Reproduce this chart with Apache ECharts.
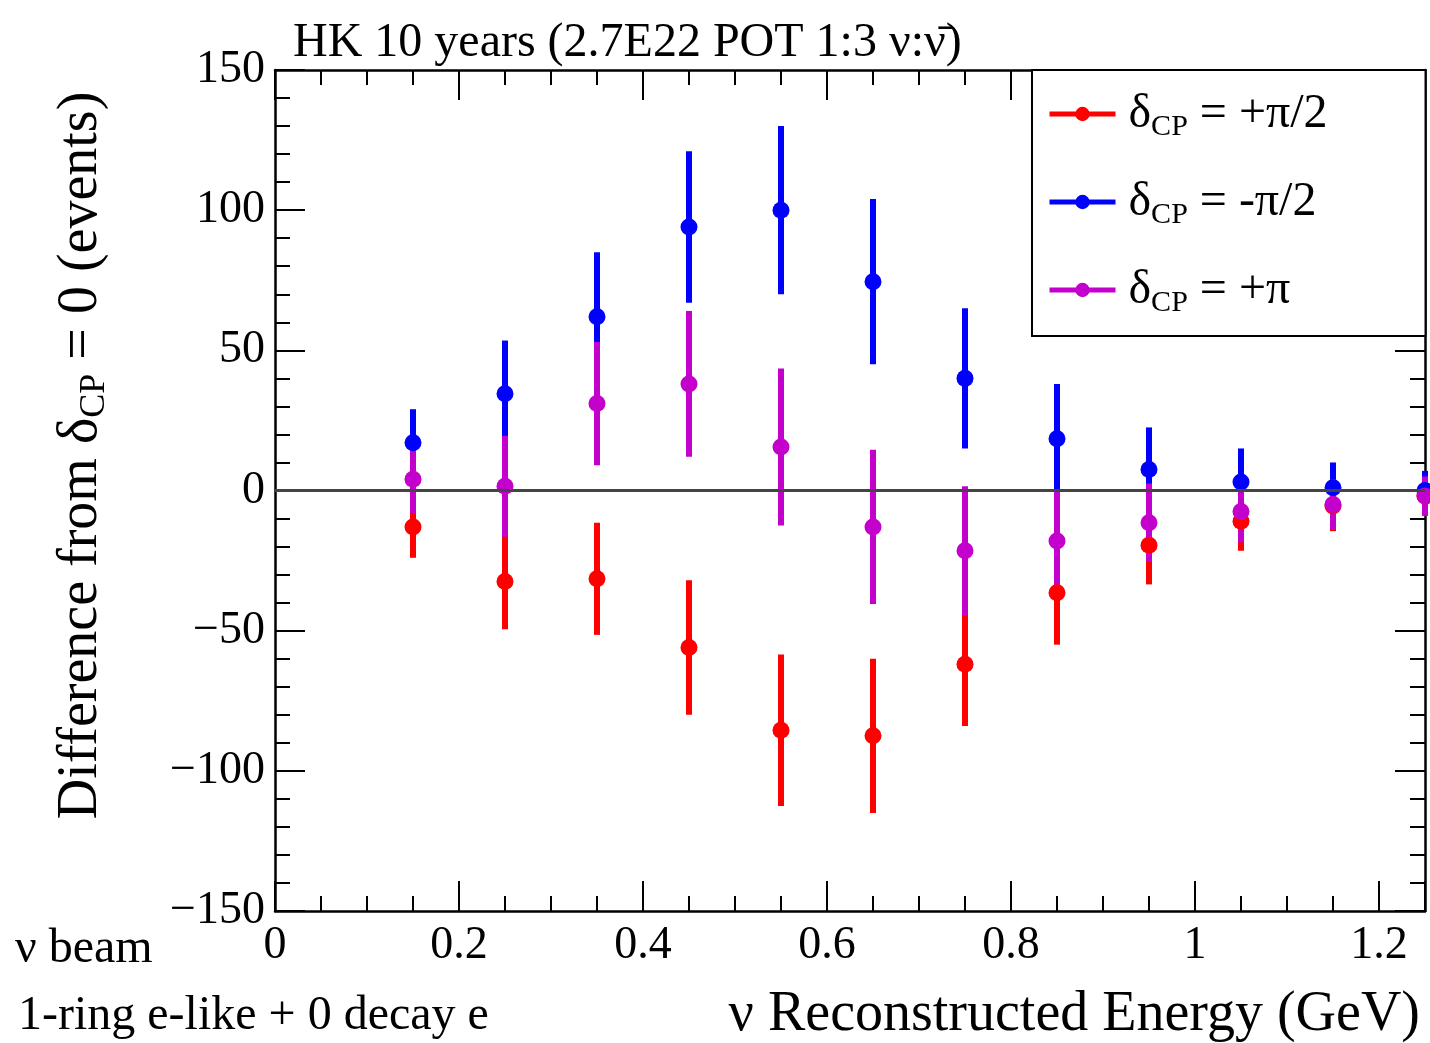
<!DOCTYPE html>
<html>
<head>
<meta charset="utf-8">
<title>HK 10 years - difference from dCP = 0</title>
<script src="https://cdn.jsdelivr.net/npm/echarts@6/dist/echarts.min.js"></script>
<style>
  html, body { margin: 0; padding: 0; background: #fff; }
  #chart { width: 1430px; height: 1043px; }
</style>
</head>
<body>
<div id="chart"></div>
<script>
// bin centres (GeV)
var energy = [0.15, 0.25, 0.35, 0.45, 0.55, 0.65, 0.75, 0.85, 0.95, 1.05, 1.15, 1.25];

// dCP = +pi/2
var plusHalfPi    = [-13, -32.5, -31.5, -56, -85.5, -87.5, -62, -36.5, -19.5, -11, -5.5, -2];
var plusHalfPiErr = [11, 17, 20, 24, 27, 27.5, 22, 18.5, 14, 10.5, 9, 7];
// dCP = -pi/2
var minusHalfPi    = [17, 34.5, 62, 94, 100, 74.5, 40, 18.5, 7.5, 3, 1, 0];
var minusHalfPiErr = [12, 19, 23, 27, 30, 29.5, 25, 19.5, 15, 12, 9, 7];
// dCP = +pi
var plusPi    = [4, 1.5, 31, 38, 15.5, -13, -21.5, -18, -11.5, -7.5, -5, -2];
var plusPiErr = [12, 18, 22, 26, 28, 27.5, 23, 18.5, 14, 11, 9, 7];

var xTicks = [0, 0.2, 0.4, 0.6, 0.8, 1, 1.2];
var yTicks = [-150, -100, -50, 0, 50, 100, 150];

var FONT = 'Liberation Serif';

function pairs(ys) {
  return energy.map(function (x, i) { return [x, ys[i]]; });
}
function errPairs(ys, errs) {
  return energy.map(function (x, i) { return [x, ys[i] - errs[i], ys[i] + errs[i]]; });
}

function errorSeries(name, color, ys, errs) {
  return {
    name: name,
    type: 'custom',
    silent: true,
    data: errPairs(ys, errs),
    encode: { x: 0, y: [1, 2] },
    renderItem: function (params, api) {
      var lo = api.coord([api.value(0), api.value(1)]);
      var hi = api.coord([api.value(0), api.value(2)]);
      return {
        type: 'line',
        shape: { x1: lo[0], y1: lo[1], x2: hi[0], y2: hi[1] },
        style: { stroke: color, lineWidth: 6 }
      };
    }
  };
}

function pointSeries(name, color, ys) {
  return {
    name: name,
    type: 'line',
    data: pairs(ys),
    symbol: 'circle',
    symbolSize: 17,
    color: color,
    itemStyle: { color: color },
    lineStyle: { width: 0, opacity: 0 },
    silent: true
  };
}

var names = ['+π/2', '-π/2', '+π'];
var colors = ['#ff0000', '#0000ff', '#c400cc'];

var minusFmt = function (v) { return String(v).replace('-', '\u2212'); };

// common frame pieces
var frameLine = { show: true, onZero: false, lineStyle: { color: '#000', width: 2.5 } };
var majorTick = { inside: true, length: 30, lineStyle: { color: '#000', width: 2 } };

var option = {
  animation: false,
  backgroundColor: '#fff',
  textStyle: { fontFamily: FONT, color: '#000' },
  title: {
    text: 'HK 10 years (2.7E22 POT 1:3 \u03bd:\u03bd\u0304)',
    left: 288, top: 14,
    textStyle: { fontFamily: FONT, fontSize: 48, fontWeight: 'normal', color: '#000' }
  },
  grid: { left: 275, right: 5, top: 70, bottom: 130 },
  legend: {
    data: names,
    orient: 'vertical',
    left: 1032, top: 70,
    padding: [20, 98, 18, 15],
    itemGap: 36,
    itemWidth: 66,
    itemHeight: 18,
    backgroundColor: '#fff',
    borderColor: '#000',
    borderWidth: 2,
    lineStyle: { width: 5, opacity: 1 },
    formatter: function (n) { return '{d|δ}{s|CP}{e| = ' + n + '}'; },
    textStyle: {
      fontFamily: FONT,
      rich: {
        d: { fontFamily: FONT, fontSize: 48, color: '#000', padding: [0, 0, 0, 8] },
        s: { fontFamily: FONT, fontSize: 30, color: '#000', padding: [26, 0, 0, 0] },
        e: { fontFamily: FONT, fontSize: 48, color: '#000' }
      }
    }
  },
  xAxis: [{
    type: 'value',
    min: 0, max: 1.25, interval: 0.2,
    name: '\u03bd Reconstructed Energy (GeV)',
    nameLocation: 'end',
    nameGap: -5,
    nameTextStyle: { fontFamily: FONT, fontSize: 56, align: 'right', verticalAlign: 'top', padding: [76, 0, 0, 0] },
    axisLine: frameLine,
    axisTick: majorTick,
    minorTick: { show: true, splitNumber: 4, length: 15, lineStyle: { color: '#000', width: 2 } },
    axisLabel: {
      fontFamily: FONT, fontSize: 46, color: '#000', margin: 12, showMaxLabel: false,
      formatter: function (v) { return xTicks.indexOf(v) >= 0 ? String(v) : ''; }
    },
    splitLine: { show: false }
  }, {
    type: 'value',
    position: 'top',
    min: 0, max: 1.25, interval: 0.2,
    axisLine: frameLine,
    axisTick: majorTick,
    minorTick: { show: true, splitNumber: 4, length: 15, lineStyle: { color: '#000', width: 2 } },
    axisLabel: { show: false },
    splitLine: { show: false }
  }],
  yAxis: [{
    type: 'value',
    min: -150, max: 150, interval: 50,
    name: '{a|Difference from δ}{s|CP}{a| = 0 (events)}',
    nameLocation: 'middle',
    nameGap: 162,
    nameTextStyle: {
      padding: [0, 0, 0, 70],
      rich: {
        a: { fontFamily: FONT, fontSize: 56, color: '#000' },
        s: { fontFamily: FONT, fontSize: 36, color: '#000', padding: [28, 0, 0, 0] }
      }
    },
    axisLine: frameLine,
    axisTick: majorTick,
    minorTick: { show: true, splitNumber: 5, length: 15, lineStyle: { color: '#000', width: 2 } },
    axisLabel: {
      fontFamily: FONT, fontSize: 46, color: '#000', margin: 10,
      formatter: function (v) { return yTicks.indexOf(v) >= 0 ? minusFmt(v) : ''; }
    },
    splitLine: { show: false }
  }, {
    type: 'value',
    position: 'right',
    min: -150, max: 150, interval: 50,
    axisLine: frameLine,
    axisTick: majorTick,
    minorTick: { show: true, splitNumber: 5, length: 15, lineStyle: { color: '#000', width: 2 } },
    axisLabel: { show: false },
    splitLine: { show: false }
  }],
  graphic: [
    { type: 'text', left: 15, top: 925, style: { text: '\u03bd beam', font: '48px "Liberation Serif"', fill: '#000' } },
    { type: 'text', left: 18, top: 992, style: { text: '1-ring e-like + 0 decay e', font: '48px "Liberation Serif"', fill: '#000' } }
  ],
  series: [
    {
      name: 'zero',
      type: 'line',
      data: [],
      silent: true,
      markLine: {
        silent: true,
        symbol: 'none',
        label: { show: false },
        lineStyle: { color: '#444', width: 3, type: 'solid' },
        data: [{ yAxis: 0 }]
      }
    },
    errorSeries('err1', colors[0], plusHalfPi, plusHalfPiErr),
    pointSeries(names[0], colors[0], plusHalfPi),
    errorSeries('err2', colors[1], minusHalfPi, minusHalfPiErr),
    pointSeries(names[1], colors[1], minusHalfPi),
    errorSeries('err3', colors[2], plusPi, plusPiErr),
    pointSeries(names[2], colors[2], plusPi)
  ]
};

var myChart = echarts.init(document.getElementById('chart'));
myChart.setOption(option);
</script>
</body>
</html>
